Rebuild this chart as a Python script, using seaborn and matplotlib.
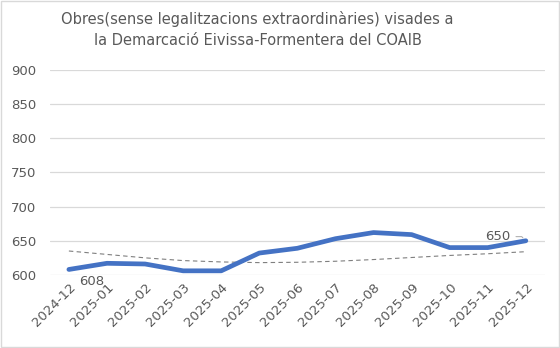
import numpy as np
import pandas as pd
import matplotlib
matplotlib.use("Agg")
import matplotlib.pyplot as plt
import seaborn as sns

months = ["2024-12", "2025-01", "2025-02", "2025-03", "2025-04", "2025-05", "2025-06",
          "2025-07", "2025-08", "2025-09", "2025-10", "2025-11", "2025-12"]
obres = [608, 617, 616, 606, 606, 632, 639, 653, 662, 659, 640, 640, 650]
tendencia = [635, 630, 625, 621, 619, 618, 618.5, 620, 622.5, 625.5, 628.5, 631, 634]
yticks = [600, 650, 700, 750, 800, 850, 900]

df = pd.DataFrame({"mes": months, "obres": obres, "tendencia": tendencia})
df["pos"] = np.arange(len(df))

sns.set_theme(style="white")
plt.rcParams["font.family"] = ["DejaVu Sans"]
text_col = "#595959"

fig = plt.figure(figsize=(5.6, 3.48), dpi=100)
ax = fig.add_axes([0.089, 0.21, 0.884, 0.589])

for y in yticks:
    ax.axhline(y, color="#d9d9d9", lw=0.9, zorder=0)

# trend line
sns.lineplot(data=df, x="pos", y="tendencia", ax=ax, color="#7f7f7f", lw=0.8,
             linestyle=(0, (4, 3)), zorder=1)

sns.lineplot(data=df, x="pos", y="obres", ax=ax, color="#4472C4", lw=3.4,
             solid_capstyle="round", solid_joinstyle="round", zorder=3)

ax.set_xlim(-0.5, len(df) - 0.5)
ax.set_ylim(600, 900)
ax.set_yticks(yticks)
ax.set_yticklabels([str(v) for v in yticks], color=text_col, fontsize=9.5)
ax.set_xticks(df["pos"])
ax.set_xticklabels(months, rotation=45, ha="right", rotation_mode="anchor",
                   color=text_col, fontsize=9.5)
ax.tick_params(axis="both", length=0, pad=4)
ax.tick_params(axis="y", pad=10)
ax.set_xlabel("")
ax.set_ylabel("")
for s in ax.spines.values():
    s.set_visible(False)

# data labels for first and last points
ax.annotate(str(obres[0]), xy=(0, obres[0]), xytext=(0.6, obres[0] - 18),
            ha="center", va="center", color=text_col, fontsize=9.5,
            annotation_clip=False)
ax.annotate(str(obres[-1]), xy=(len(df) - 1, obres[-1]), xytext=(len(df) - 1.75, obres[-1] + 6),
            ha="center", va="center", color=text_col, fontsize=9.5,
            arrowprops=dict(arrowstyle="-", color="#a6a6a6", lw=0.7,
                            shrinkA=2, shrinkB=3, relpos=(1.0, 0.5),
                            connectionstyle="angle,angleA=0,angleB=135,rad=0"))

fig.text(0.46, 0.915, "Obres(sense legalitzacions extraordinàries) visades a\n"
         "la Demarcació Eivissa-Formentera del COAIB",
         ha="center", va="center", color=text_col, fontsize=10.5, linespacing=1.5)

fig.patches.append(plt.Rectangle((0.002, 0.003), 0.996, 0.994, transform=fig.transFigure,
                                 fill=False, edgecolor="#d9d9d9", lw=1))

fig.savefig("out.png", dpi=100, facecolor="white")
